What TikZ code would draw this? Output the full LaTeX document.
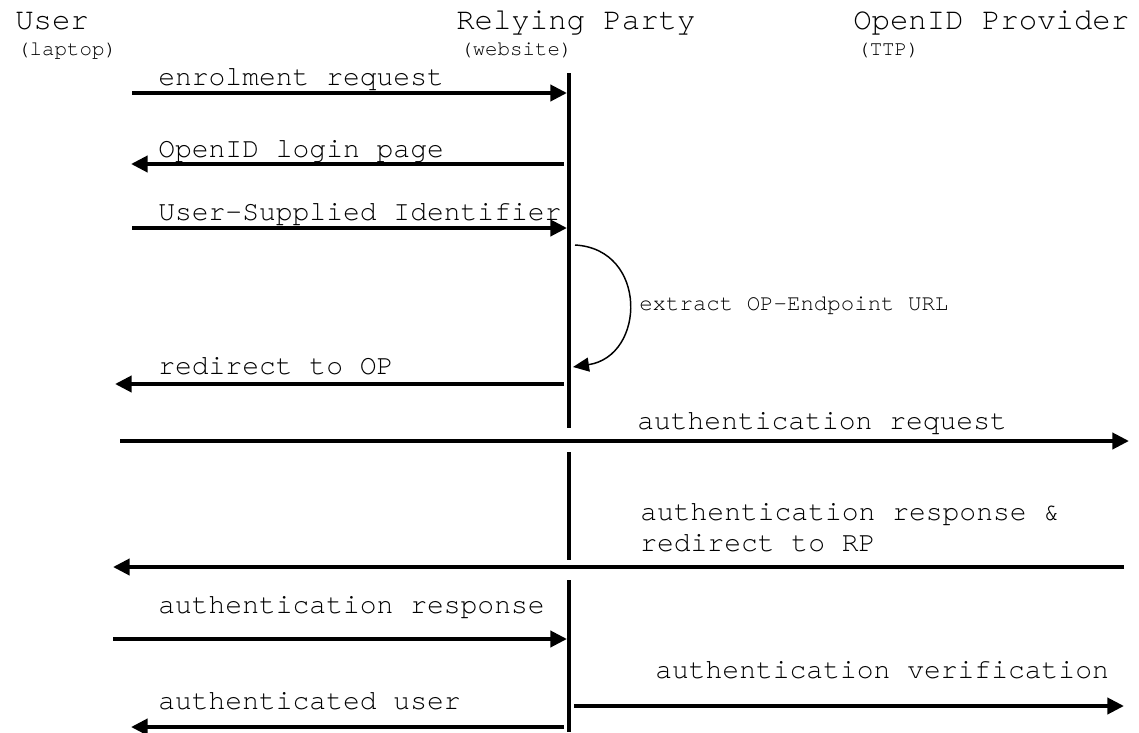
\documentclass[tikz,border=0pt]{standalone}
\usepackage{fontspec}
\setmonofont[Ligatures=NoCommon]{texgyrecursor-regular.otf}
\usetikzlibrary{arrows.meta}
\begin{document}
\begin{tikzpicture}[x=0.75pt,y=-0.75pt,
  msg/.style={line width=3pt, -{Triangle[length=12.5pt,width=12pt]}},
  selfmsg/.style={line width=1.1pt, -{Triangle[length=12pt,width=10.5pt]}},
  lifeline/.style={line width=3pt},
  lbl/.style={anchor=base west, inner sep=0pt, font=\ttfamily\fontsize{21}{24}\selectfont},
  ttl/.style={anchor=base west, inner sep=0pt, font=\ttfamily\fontsize{23}{27}\selectfont},
  sub/.style={anchor=base west, inner sep=0pt, font=\ttfamily\fontsize{15.6}{18}\selectfont},
  note/.style={anchor=base west, inner sep=0pt, font=\ttfamily\fontsize{16.8}{20}\selectfont},
]
\useasboundingbox (0,0) rectangle (1139,732);

% participants
\node[ttl] (user) at (15,29) {User};
\node[sub] (userS) at (17,55) {(laptop)};
\node[ttl] (rp) at (456,29) {Relying Party};
\node[sub] (rpS) at (460,55) {(website)};
\node[ttl] (op) at (853,29) {OpenID Provider};
\node[sub] (opS) at (857,55) {(TTP)};

% lifeline of the relying party
\coordinate (l1a) at (569,73);  \coordinate (l1b) at (569,428);
\coordinate (l2a) at (569,452); \coordinate (l2b) at (569,560);
\coordinate (l3a) at (569,580); \coordinate (l3b) at (569,732);
\draw[lifeline] (l1a) -- (l1b);
\draw[lifeline] (l2a) -- (l2b);
\draw[lifeline] (l3a) -- (l3b);

% endpoints
\coordinate (m1s) at (132,93);  \coordinate (m1e) at (567,93);
\coordinate (m2s) at (564,164); \coordinate (m2e) at (131,164);
\coordinate (m3s) at (132,228); \coordinate (m3e) at (567,228);
\coordinate (c1s) at (575,245); \coordinate (c1e) at (573,367);
\coordinate (m4s) at (564,384); \coordinate (m4e) at (115,384);
\coordinate (m5s) at (120,441); \coordinate (m5e) at (1129,441);
\coordinate (m6s) at (1124,567); \coordinate (m6e) at (113,567);
\coordinate (m7s) at (113,639); \coordinate (m7e) at (567,639);
\coordinate (m8s) at (574,706); \coordinate (m8e) at (1124,706);
\coordinate (m9s) at (564,727); \coordinate (m9e) at (131,727);

% messages
\draw[msg] (m1s) -- (m1e);
\node[lbl] (t1) at (158,85) {enrolment request};
\draw[msg] (m2s) -- (m2e);
\node[lbl] (t2) at (158,157) {OpenID login page};
\draw[msg] (m3s) -- (m3e);
\node[lbl] (t3) at (158,220) {User-Supplied Identifier};
\draw[selfmsg] (c1s) .. controls (648,249) and (646,356) .. (c1e);
\node[note] (tc) at (639,310) {extract OP-Endpoint URL};
\draw[msg] (m4s) -- (m4e);
\node[lbl] (t4) at (158,374) {redirect to OP};
\draw[msg] (m5s) -- (m5e);
\node[lbl] (t5) at (637,429) {authentication request};
\draw[msg] (m6s) -- (m6e);
\node[lbl] (t6a) at (640,520) {authentication response \&};
\node[lbl] (t6b) at (640,551) {redirect to RP};
\draw[msg] (m7s) -- (m7e);
\node[lbl] (t7) at (158,613) {authentication response};
\draw[msg] (m8s) -- (m8e);
\node[lbl] (t8) at (655,678) {authentication verification};
\draw[msg] (m9s) -- (m9e);
\node[lbl] (t9) at (158,709) {authenticated user};
\end{tikzpicture}
\end{document}
